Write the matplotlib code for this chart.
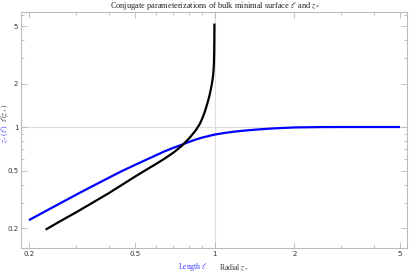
import matplotlib
matplotlib.use("Agg")
import matplotlib.pyplot as plt
from matplotlib.ticker import LogLocator, FixedLocator, NullFormatter, FixedFormatter

# z*(l): blue curve (x = length l, y = radial z*)
blue_x = [0.2, 0.25, 0.3, 0.35, 0.4, 0.45, 0.5, 0.55, 0.6, 0.65, 0.7, 0.75, 0.8, 0.85, 0.9,
          1.0, 1.1, 1.2, 1.3, 1.4, 1.5, 1.7, 2.0, 2.5, 3.0, 5.0]
blue_y = [0.227, 0.283, 0.339, 0.393, 0.446, 0.498, 0.545, 0.591, 0.636, 0.680, 0.718, 0.752,
          0.788, 0.819, 0.846, 0.886, 0.912, 0.931, 0.945, 0.956, 0.966, 0.980, 0.993, 0.999, 1.0, 1.0]

# l(z*): black curve (x = radial z*, y = length l)
black_x = [0.231, 0.26, 0.3, 0.35, 0.4, 0.45, 0.5, 0.55, 0.6, 0.65, 0.7, 0.75, 0.8, 0.85,
           0.88, 0.90, 0.92, 0.94, 0.955, 0.97, 0.98, 0.987, 0.992, 0.995, 0.997, 0.998, 0.999]
black_y = [0.195, 0.221, 0.256, 0.302, 0.349, 0.400, 0.452, 0.503, 0.553, 0.606, 0.665, 0.737,
           0.83, 0.95, 1.05, 1.15, 1.28, 1.46, 1.62, 1.85, 2.05, 2.25, 2.5, 2.8, 3.25, 3.8, 5.2]

tick_vals = [0.2, 0.5, 1, 2, 5]
tick_labels = ["0.2", "0.5", "1", "2", "5"]

title = r"Conjugate parameterizations of bulk minimal surface $\ell$ and $z_*$"

plt.rcParams['mathtext.fontset'] = 'stix'

fig = plt.figure(figsize=(4.09, 2.72), dpi=100)
ax = fig.add_axes([21/409, 24/272, 386/409, 236/272])

ax.set_xscale('log')
ax.set_yscale('log')
ax.set_xlim(0.1866, 5.31)
ax.set_ylim(0.1455, 6.25)

ax.axvline(1, color='#dddddd', lw=0.8, zorder=0)
ax.axhline(1, color='#dddddd', lw=0.8, zorder=0)

ax.plot(blue_x, blue_y, color='blue', lw=1.6, solid_capstyle='butt', solid_joinstyle='round')
ax.plot(black_x, black_y, color='black', lw=1.6, solid_capstyle='butt', solid_joinstyle='round')

for a in (ax.xaxis, ax.yaxis):
    a.set_major_locator(FixedLocator(tick_vals))
    a.set_major_formatter(FixedFormatter(tick_labels))
    a.set_minor_locator(LogLocator(base=10, subs=(0.1,0.2,0.3,0.4,0.5,0.6,0.7,0.8,0.9)))
    a.set_minor_formatter(NullFormatter())

ax.tick_params(which='both', direction='in', top=True, right=True, color='#aaaaaa',
               labelsize=5, labelcolor='#333333', width=0.5, pad=2)
ax.tick_params(which='major', length=4)
ax.tick_params(which='minor', length=2)
for s in ax.spines.values():
    s.set_color('#bbbbbb')
    s.set_linewidth(0.8)

fig.text(215/409, 1 - 6/272, title, ha='center', va='center', fontsize=6,
         family='Liberation Serif', color='#222222')
fig.text(193/409, 1 - 267/272, r"Length $\ell$", ha='center', va='center', fontsize=5.5,
         family='Liberation Serif', color='#3a3aff')
fig.text(234/409, 1 - 267/272, r"Radial $z_*$", ha='center', va='center', fontsize=5.5,
         family='Liberation Serif', color='#333333')
fig.text(5/409, 1 - 113/272, r"$\ell(z_*)$", ha='center', va='center', fontsize=5.5,
         rotation=90, family='Liberation Serif', color='#333333')
fig.text(5/409, 1 - 134/272, r"$z_*(\ell)$", ha='center', va='center', fontsize=5.5,
         rotation=90, family='Liberation Serif', color='#3a3aff')

fig.savefig('out.png', dpi=100)
